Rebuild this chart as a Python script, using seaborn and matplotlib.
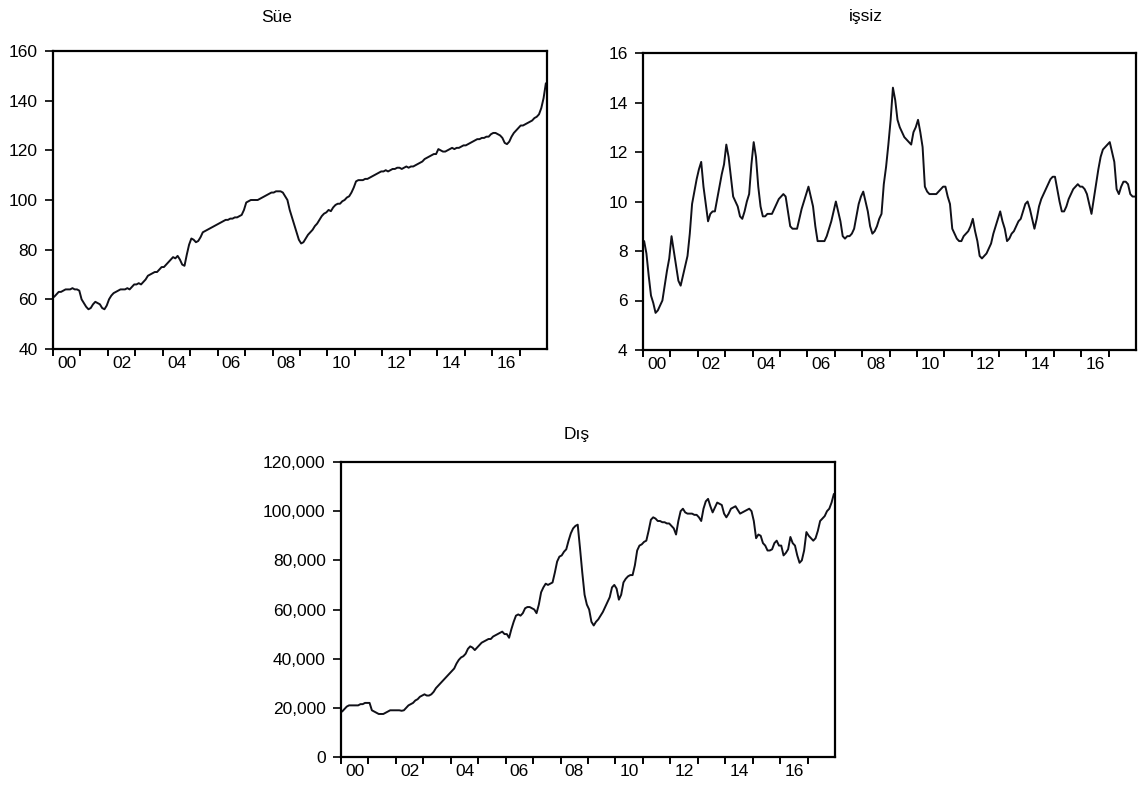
import matplotlib
matplotlib.use("Agg")
import matplotlib.pyplot as plt
import matplotlib.ticker as mticker
import numpy as np
import seaborn as sns

# monthly data, 2000M01 - 2017M12
sue = [
    61, 62, 63, 63, 63.5, 64, 64, 64, 64.5, 64, 64, 63.5,
    60, 58.5, 57, 56, 56.5, 58, 59, 58.5, 58, 56.5, 56, 57.5,
    60, 61.5, 62.5, 63, 63.5, 64, 64, 64, 64.5, 64, 65, 66,
    66, 66.5, 66, 67, 68, 69.5, 70, 70.5, 71, 71, 72, 73,
    73, 74, 75, 76, 77, 76.5, 77.5, 76, 74, 73.5, 78, 82,
    84.5, 84, 83, 83.5, 85, 87, 87.5, 88, 88.5, 89, 89.5, 90,
    90.5, 91, 91.5, 92, 92, 92.5, 92.5, 93, 93, 93.5, 94, 96,
    99, 99.5, 100, 100, 100, 100, 100.5, 101, 101.5, 102, 102.5, 103,
    103, 103.5, 103.5, 103.5, 103, 101.5, 100, 96, 93, 90, 87, 84,
    82.5, 83, 84.5, 86, 87, 88, 89.5, 90.5, 92, 93.5, 94.5, 95,
    96, 95.5, 97, 98, 98.5, 98.5, 99.5, 100, 101, 101.5, 103, 105,
    107.5, 108, 108, 108, 108.5, 108.5, 109, 109.5, 110, 110.5, 111, 111.5,
    111.5, 112, 111.5, 112, 112.5, 112.5, 113, 113, 112.5, 113, 113.5, 113,
    113.5, 113.5, 114, 114.5, 115, 115.5, 116.5, 117, 117.5, 118, 118.5, 118.5,
    120.5, 120, 119.5, 119.5, 120, 120.5, 121, 120.5, 121, 121, 121.5, 122,
    122, 122.5, 123, 123.5, 124, 124.5, 124.5, 125, 125, 125.5, 125.5, 126.5,
    127, 127, 126.5, 126, 125, 123, 122.5, 123.5, 125.5, 127, 128, 129,
    130, 130, 130.5, 131, 131.5, 132, 133, 133.5, 134.5, 137, 141, 147,
]

issiz = [
    8.4, 7.9, 7.0, 6.2, 5.9, 5.5, 5.6, 5.8, 6.0, 6.6, 7.2, 7.7,
    8.6, 8.0, 7.4, 6.8, 6.6, 7.0, 7.4, 7.8, 8.7, 9.9, 10.4, 10.9,
    11.3, 11.6, 10.6, 9.9, 9.2, 9.5, 9.6, 9.6, 10.1, 10.6, 11.1, 11.5,
    12.3, 11.8, 11.0, 10.2, 10.0, 9.8, 9.4, 9.3, 9.6, 10.0, 10.3, 11.5,
    12.4, 11.8, 10.6, 9.8, 9.4, 9.4, 9.5, 9.5, 9.5, 9.7, 9.9, 10.1,
    10.2, 10.3, 10.2, 9.6, 9.0, 8.9, 8.9, 8.9, 9.3, 9.7, 10.0, 10.3,
    10.6, 10.2, 9.8, 9.0, 8.4, 8.4, 8.4, 8.4, 8.6, 8.9, 9.2, 9.6,
    10.0, 9.6, 9.2, 8.6, 8.5, 8.6, 8.6, 8.7, 8.9, 9.4, 9.9, 10.2,
    10.4, 10.0, 9.6, 9.0, 8.7, 8.8, 9.0, 9.3, 9.5, 10.7, 11.4, 12.3,
    13.3, 14.6, 14.1, 13.3, 13.0, 12.8, 12.6, 12.5, 12.4, 12.3, 12.8, 13.0,
    13.3, 12.8, 12.2, 10.6, 10.4, 10.3, 10.3, 10.3, 10.3, 10.4, 10.5, 10.6,
    10.6, 10.2, 9.9, 8.9, 8.7, 8.5, 8.4, 8.4, 8.6, 8.7, 8.8, 9.0,
    9.3, 8.8, 8.4, 7.8, 7.7, 7.8, 7.9, 8.1, 8.3, 8.7, 9.0, 9.3,
    9.6, 9.2, 8.9, 8.4, 8.5, 8.7, 8.8, 9.0, 9.2, 9.3, 9.6, 9.9,
    10.0, 9.7, 9.3, 8.9, 9.3, 9.8, 10.1, 10.3, 10.5, 10.7, 10.9, 11.0,
    11.0, 10.5, 10.0, 9.6, 9.6, 9.8, 10.1, 10.3, 10.5, 10.6, 10.7, 10.6,
    10.6, 10.5, 10.3, 9.9, 9.5, 10.1, 10.7, 11.3, 11.8, 12.1, 12.2, 12.3,
    12.4, 12.0, 11.6, 10.5, 10.3, 10.6, 10.8, 10.8, 10.7, 10.3, 10.2, 10.2,
]

# thousands
dis_k = [
    18.5, 19.5, 20.5, 21, 21, 21, 21, 21, 21.5, 21.5, 22, 22,
    22, 19, 18.5, 18, 17.5, 17.5, 17.5, 18, 18.5, 19, 19, 19,
    19, 19, 18.8, 19, 20, 21, 21.5, 22, 23, 23.5, 24.5, 25,
    25.5, 25, 25, 25.5, 26.5, 28, 29, 30, 31, 32, 33, 34,
    35, 36, 38, 39.5, 40.5, 41, 42, 44, 45, 44.5, 43.5, 44.5,
    45.5, 46.5, 47, 47.5, 48, 48, 49, 49.5, 50, 50.5, 51, 50,
    50, 48.5, 52, 55, 57.5, 58, 57.5, 58.5, 60.5, 61, 61, 60.5,
    60, 58.5, 62, 67, 69, 70.5, 70, 70.5, 71, 75, 79.5, 81.5,
    82, 83.5, 84.5, 88, 91, 93, 94, 94.5, 85, 75, 66, 62,
    60, 55, 53.5, 55, 56, 57.5, 59, 61, 63, 65, 69, 70,
    68.5, 64, 66, 71, 72.5, 73.5, 74, 74, 78, 84, 86, 86.5,
    87.5, 88, 92, 96.5, 97.5, 97, 96, 96, 95.5, 95.5, 95, 95,
    94, 93, 90.5, 96, 100, 101, 99.5, 99, 99, 99, 98.5, 98.5,
    97.5, 96, 101, 104, 105, 102, 99.5, 101.5, 103.5, 103, 102.5, 99,
    97.5, 99, 101, 101.5, 102, 100.5, 99, 99.5, 100, 100.5, 101, 100,
    96, 89, 90.5, 90, 87, 86, 84, 84, 84.5, 87, 88, 86,
    86, 82, 83, 84.5, 89.5, 87, 86, 82, 79, 80, 84, 91.5,
    90, 89, 88, 89, 92, 96, 97, 98, 100, 101, 103.5, 107,
]
dis = np.array(dis_k) * 1000

year_labels = ["00", "02", "04", "06", "08", "10", "12", "14", "16"]

sns.set_style("white")
plt.rcParams["font.family"] = ["Liberation Sans", "DejaVu Sans"]
plt.rcParams["text.color"] = "black"
plt.rcParams["xtick.color"] = "black"
plt.rcParams["ytick.color"] = "black"

W, H = 1141, 791
fig = plt.figure(figsize=(W / 100, H / 100), dpi=100)

t = 2000 + (np.arange(len(sue)) + 0.5) / 12


def make_ax(x0, y0, x1, y1):
    return fig.add_axes([x0 / W, 1 - y1 / H, (x1 - x0) / W, (y1 - y0) / H])


def style(ax, yticks, fmt=None):
    ax.set_xlim(2000, 2018)
    ax.set_ylim(yticks[0], yticks[-1])
    ax.set_xticks(range(2000, 2018))
    ax.set_xticklabels([])
    ax.set_xticks([2000 + 2 * i + 0.5 for i in range(len(year_labels))], minor=True)
    ax.set_xticklabels(year_labels, minor=True)
    ax.tick_params(axis="x", which="major", direction="out", length=5, width=1.4,
                   bottom=True, color="black")
    ax.tick_params(axis="x", which="minor", length=0, pad=5, labelsize=12.5,
                   labelcolor="black")
    ax.set_yticks(yticks)
    if fmt:
        ax.yaxis.set_major_formatter(mticker.StrMethodFormatter(fmt))
    ax.tick_params(axis="y", direction="out", length=6, width=1.2, left=True,
                   pad=5, labelsize=12.5, color="black", labelcolor="black")
    for s in ax.spines.values():
        s.set_color("black")
        s.set_linewidth(1.6)
    ax.set_xlabel("")
    ax.set_ylabel("")


line_kw = dict(color="#101018", linewidth=1.4)

ax1 = make_ax(53, 51, 547, 349)
sns.lineplot(x=t, y=sue, ax=ax1, **line_kw)
style(ax1, [40, 60, 80, 100, 120, 140, 160])
fig.text(277 / W, 1 - 17 / H, "Süe", ha="center", va="center", fontsize=12.5)

ax2 = make_ax(643, 53, 1136, 350)
sns.lineplot(x=t, y=issiz, ax=ax2, **line_kw)
style(ax2, [4, 6, 8, 10, 12, 14, 16])
fig.text(866 / W, 1 - 17 / H, "işsiz", ha="center", va="center", fontsize=12.5)

ax3 = make_ax(341, 462, 835, 757)
sns.lineplot(x=t, y=dis, ax=ax3, **line_kw)
style(ax3, [0, 20000, 40000, 60000, 80000, 100000, 120000], "{x:,.0f}")
fig.text(577 / W, 1 - 434 / H, "Dış", ha="center", va="center", fontsize=12.5)

fig.savefig("out.png", dpi=100)
